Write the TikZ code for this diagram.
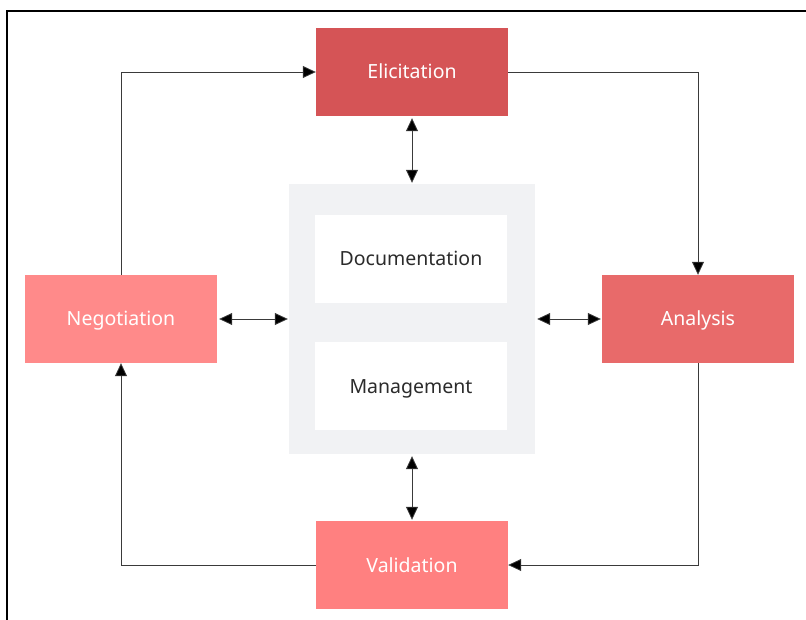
\documentclass[tikz,border=0pt]{standalone}
\usepackage{fontspec}
\setmainfont{Noto Sans}
\usetikzlibrary{positioning,arrows.meta}
\definecolor{elic}{HTML}{D55456}
\definecolor{anal}{HTML}{E86A6A}
\definecolor{nego}{HTML}{FF8A8A}
\definecolor{vali}{HTML}{FF8080}
\definecolor{pane}{HTML}{F1F2F4}
\definecolor{ink}{HTML}{2B2B2B}
\definecolor{wire}{HTML}{3A3A3A}

\begin{document}
\begin{tikzpicture}[x=1pt,y=1pt,
    stage/.style={minimum width=192pt,minimum height=88pt,inner sep=0pt,
      text height=17pt,text depth=3pt,
      text=white,font=\fontsize{19.5}{23}\selectfont},
    part/.style={stage,fill=white,text=ink},
    flow/.style={draw=wire,line width=0.8pt,-{Triangle[length=13pt,width=12pt,fill=black]}},
    both/.style={draw=wire,line width=0.8pt,
      {Triangle[length=13pt,width=12pt,fill=black]}-{Triangle[length=13pt,width=12pt,fill=black]},
      shorten <=2pt,shorten >=1pt}]
 \useasboundingbox (0,0) rectangle (806,-620);
 \draw[line width=2pt] (7,-620) -- (7,-11) -- (806,-11);
 % four stages
 \node[stage,fill=elic] (ELI) at (412,-72) {Elicitation};
 \node[stage,fill=anal] (ANA) at (698,-319) {Analysis};
 \node[stage,fill=nego] (NEG) at (121,-319) {Negotiation};
 \node[stage,fill=vali] (VAL) at (412,-565) {Validation};
 % centre block
 \node[fill=pane,minimum width=246pt,minimum height=270pt] (MID) at (412,-319) {};
 \node[part] (DOC) at (411,-259) {Documentation};
 \node[part,below=39pt of DOC] (MAN) {Management};
 % connectors
 \draw[both] (ELI.south) -- (MID.north);
 \draw[both] (MID.south) -- (VAL.north);
 \draw[both] (NEG.east) -- (MID.west);
 \draw[both] (MID.east) -- (ANA.west);
 \draw[flow] (NEG.north) |- (ELI.west);
 \draw[flow] (ELI.east) -| (ANA.north);
 \draw[flow] (ANA.south) |- (VAL.east);
 \draw[flow] (VAL.west) -| (NEG.south);
\end{tikzpicture}
\end{document}
